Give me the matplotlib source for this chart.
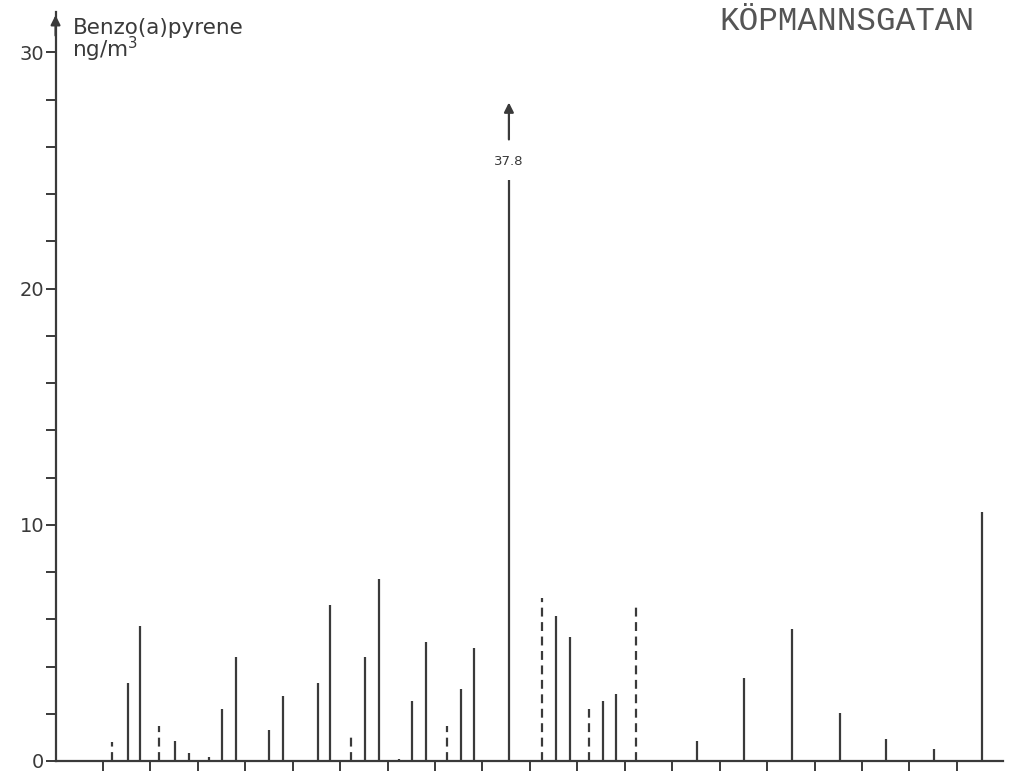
import matplotlib.pyplot as plt

# sampling day (ticks every 7 days) and benzo(a)pyrene level, ng/m3
days = [8.3, 10.7, 12.5, 15.3, 17.6, 19.7, 22.6, 24.6, 26.6, 31.5, 33.6,
        38.7, 40.5, 43.6, 45.7, 47.7, 50.7, 52.6, 54.7, 57.8, 59.8, 61.7,
        66.9, 71.8, 73.8, 75.9, 78.7, 80.8, 82.7, 85.6, 94.6, 101.6,
        108.7, 115.7, 122.6, 129.7, 136.7]
values = [0.8, 3.3, 5.7, 1.5, 0.85, 0.35, 0.15, 2.2, 4.4, 1.3, 2.75,
          3.3, 6.6, 1.2, 4.4, 7.7, 0.1, 2.55, 5.05, 1.5, 3.05, 4.8,
          37.8, 6.9, 6.15, 5.25, 2.2, 2.55, 2.85, 6.5, 0.85, 3.5,
          5.6, 2.05, 0.95, 0.5, 10.55]
dashed = [True, False, False, True, False, False, False, False, False, False, False,
          False, False, True, False, False, False, False, False, True, False, False,
          False, True, False, False, True, False, False, True, False, False,
          False, False, False, False, False]

CAP = 24.6  # off-scale values are cut here and labelled
INK = "#3a3a3a"

fig = plt.figure(figsize=(10.1, 7.71), dpi=100)
ax = fig.add_axes([0.055, 0.013, 0.938, 0.971])

for d, v, dash in zip(days, values, dashed):
    ax.vlines(d, 0, min(v, CAP), color=INK, lw=1.6,
              linestyles=(0, (4, 2.5)) if dash else "solid")

for d, v in zip(days, values):
    if v > CAP:
        ax.annotate("", xy=(d, 28.0), xytext=(d, 26.2),
                    arrowprops=dict(arrowstyle="-|>", color=INK, lw=1.6,
                                    mutation_scale=14))
        ax.text(d, 25.4, f"{v:.1f}", ha="center", va="center",
                fontsize=9.5, color=INK)

ax.set_xlim(0, 139.8)
ax.set_ylim(0, 31.7)
ax.set_xticks(range(7, 134, 7))
ax.set_xticklabels([])
ax.set_yticks([0, 10, 20, 30])
ax.set_yticks(range(2, 30, 2), minor=True)
ax.tick_params(axis="x", direction="out", length=8, width=1.4, color=INK)
ax.tick_params(axis="y", which="both", direction="out", length=7, width=1.4,
               color=INK, labelsize=14, labelcolor=INK, pad=1)

for s in ["top", "right"]:
    ax.spines[s].set_visible(False)
for s in ["left", "bottom"]:
    ax.spines[s].set_linewidth(1.6)
    ax.spines[s].set_color(INK)

# arrowhead on y axis
ax.annotate("", xy=(0, 31.7), xytext=(0, 30.6),
            arrowprops=dict(arrowstyle="-|>", color=INK, lw=1.6,
                            mutation_scale=14), annotation_clip=False)

ax.text(2.5, 31.45, "Benzo(a)pyrene\nng/m$^3$", ha="left", va="top",
        fontsize=15.5, color=INK, linespacing=0.85)
fig.text(0.712, 0.972, "KÖPMANNSGATAN", family="Liberation Mono",
         fontsize=23.5, color="#555555", ha="left", va="center")

fig.savefig("out.png", dpi=100)
